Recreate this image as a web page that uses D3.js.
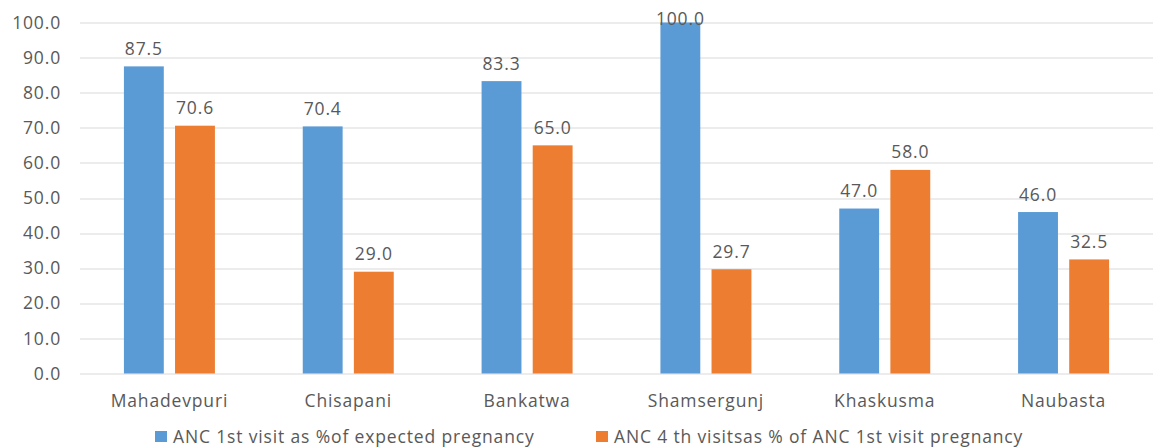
<!DOCTYPE html>
<html>
<head>
<meta charset="utf-8">
<script src="https://cdn.jsdelivr.net/npm/d3@7"></script>
<style>
  body { margin: 0; background: #fff; }
  text { font-family: "Open Sans", sans-serif; fill: #595959; letter-spacing: 0.85px; }
</style>
</head>
<body>
<div id="chart"></div>
<script>
// chart data
var districts = ["Mahadevpuri", "Chisapani", "Bankatwa", "Shamsergunj", "Khaskusma", "Naubasta"];
var firstVisit = [87.5, 70.4, 83.3, 100.0, 47.0, 46.0];
var fourthVisit = [70.6, 29.0, 65.0, 29.7, 58.0, 32.5];
var seriesNames = ["ANC 1st visit as %of expected pregnancy", "ANC 4 th visitsas % of ANC 1st visit pregnancy"];
var yTicks = [0, 10, 20, 30, 40, 50, 60, 70, 80, 90, 100];

var colors = ["#5B9BD5", "#ED7D31"];

// set inner and outer width of svg
var margin = {top: 22.5, bottom: 74.5, left: 80, right: 0},
  width = 1153 - margin.left - margin.right,
  height = 448 - margin.top - margin.bottom;

var svg = d3.select("#chart")
  .append("svg")
  .attr("width", width + margin.left + margin.right)
  .attr("height", height + margin.top + margin.bottom);

var chart = svg.append("g")
  .attr("transform", "translate(" + margin.left + "," + margin.top + ")");

// scales
var x0 = d3.scaleBand()
  .domain(districts)
  .range([0, width]);

var bw = x0.bandwidth();
var x1 = d3.scaleBand()
  .domain([0, 1])
  .range([bw / 2 - 45.5, bw / 2 + 45.5])
  .paddingInner(0.22);

var y = d3.scaleLinear()
  .domain([0, 100])
  .range([height, 0]);

// gridlines
chart.append("g")
  .selectAll("line")
  .data(yTicks)
  .enter().append("line")
  .attr("x1", 0)
  .attr("x2", width)
  .attr("y1", function(d) { return Math.round(y(d)) + 0.5; })
  .attr("y2", function(d) { return Math.round(y(d)) + 0.5; })
  .style("stroke", "#d9d9d9")
  .style("stroke-width", 1);

// y axis labels
var yAxis = d3.axisLeft(y)
  .tickValues(yTicks)
  .tickFormat(d3.format(".1f"))
  .tickSize(0)
  .tickPadding(19);

var yg = chart.append("g").call(yAxis);
yg.select(".domain").remove();
yg.selectAll("text")
  .style("font-size", "17.5px")
  .style("fill", "#595959");

// x axis labels
var xAxis = d3.axisBottom(x0).tickSize(0).tickPadding(21);
var xg = chart.append("g")
  .attr("transform", "translate(0," + height + ")")
  .call(xAxis);
xg.select(".domain").remove();
xg.selectAll("text")
  .style("font-size", "17.5px")
  .style("fill", "#595959");

// bars
var rows = districts.map(function(d, i) {
  return {name: d, values: [firstVisit[i], fourthVisit[i]]};
});

var groups = chart.selectAll(".group")
  .data(rows)
  .enter().append("g")
  .attr("class", "group")
  .attr("transform", function(d) { return "translate(" + x0(d.name) + ",0)"; });

groups.selectAll("rect")
  .data(function(d) { return d.values; })
  .enter().append("rect")
  .attr("x", function(d, i) { return x1(i); })
  .attr("y", function(d) { return y(d); })
  .attr("width", x1.bandwidth())
  .attr("height", function(d) { return height - y(d); })
  .style("fill", function(d, i) { return colors[i]; });

// value labels (kept inside the chart area when the bar reaches the top)
groups.selectAll(".value")
  .data(function(d) { return d.values; })
  .enter().append("text")
  .attr("class", "value")
  .attr("x", function(d, i) { return x1(i) + x1.bandwidth() / 2; })
  .attr("y", function(d) { return Math.max(y(d) - 11.5, 2.5); })
  .style("text-anchor", "middle")
  .style("font-size", "17.5px")
  .text(function(d) { return d.toFixed(1); });

// legend
var legendX = [155, 596];
var legend = svg.selectAll(".legend")
  .data(seriesNames)
  .enter().append("g")
  .attr("class", "legend")
  .attr("transform", function(d, i) { return "translate(" + legendX[i] + ",431)"; });

legend.append("rect")
  .attr("width", 12)
  .attr("height", 11)
  .style("fill", function(d, i) { return colors[i]; });

legend.append("text")
  .attr("x", 18)
  .attr("y", 12)
  .style("font-size", "17.5px")
  .text(function(d) { return d; });
</script>
</body>
</html>
